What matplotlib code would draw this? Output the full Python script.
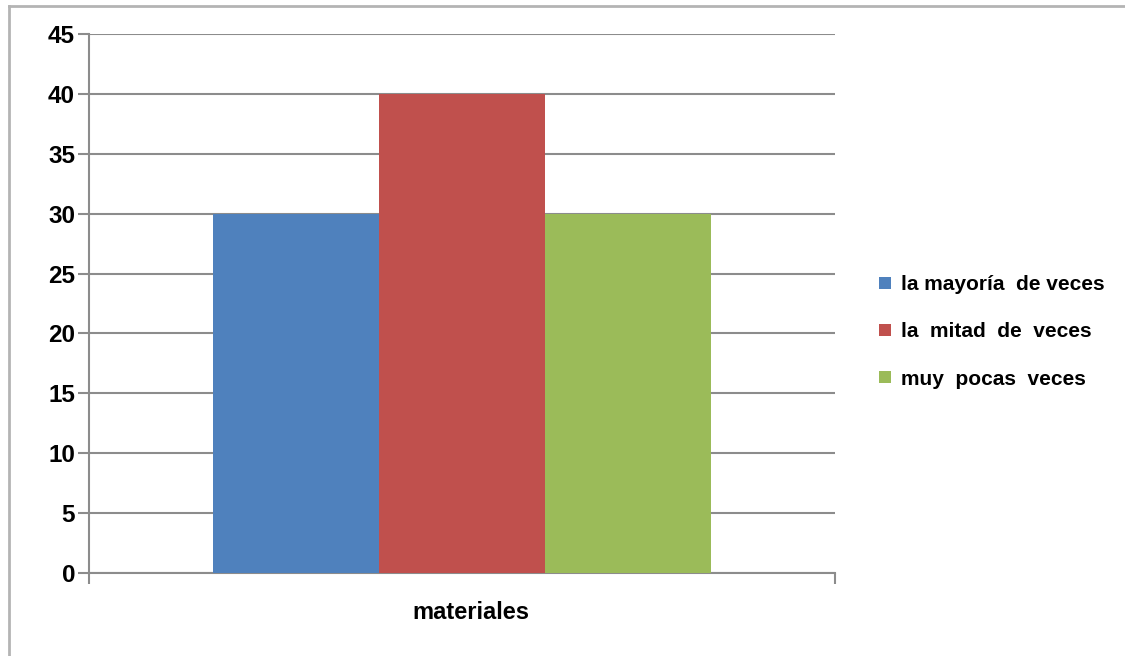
import matplotlib
matplotlib.use("Agg")
import matplotlib.pyplot as plt
from matplotlib.lines import Line2D

plt.rcParams['font.family'] = ['Liberation Sans', 'DejaVu Sans']

series = ['la mayoría  de veces', 'la  mitad  de  veces', 'muy  pocas  veces']
values = [30, 40, 30]
colors = ['#4f81bd', '#c0504d', '#9bbb59']
category = 'materiales'
yticks = [0, 5, 10, 15, 20, 25, 30, 35, 40, 45]

fig = plt.figure(figsize=(11.25, 6.56), dpi=100)
ax = fig.add_axes([0.0791, 0.1265, 0.6631, 0.8217])

w = 0.2225
offsets = [-w, 0, w]
for name, v, c, off in zip(series, values, colors, offsets):
    ax.bar(off, v, width=w, color=c, label=name, zorder=3)

ax.set_xlim(-0.5, 0.5)
ax.set_ylim(0, 45)
ax.set_yticks(yticks)
ax.set_yticklabels([str(t) for t in yticks], fontsize=17.5, fontweight='bold')
ax.yaxis.grid(True, color='#8c8c8c', linewidth=1.5, zorder=0)
ax.set_axisbelow(True)
ax.tick_params(axis='y', length=8, width=1.5, color='#8c8c8c', pad=2)
ax.set_xticks([-0.5, 0.5])
ax.set_xticklabels(['', ''])
ax.tick_params(axis='x', length=8, width=1.5, color='#8c8c8c')
for s in ['top', 'right']:
    ax.spines[s].set_visible(False)
for s in ['left', 'bottom']:
    ax.spines[s].set_color('#8c8c8c')
    ax.spines[s].set_linewidth(1.5)
ax.set_xlabel(category, fontsize=17, fontweight='bold')
ax.xaxis.set_label_coords(0.512, -0.052)

ax.legend(loc='center left', bbox_to_anchor=(0.765, 0.494), bbox_transform=fig.transFigure,
          frameon=False, prop={'size': 15, 'weight': 'bold'},
          handlelength=0.55, handleheight=0.55, handletextpad=0.5, labelspacing=1.35)

# outer border
fig.add_artist(Line2D([9 / 1125, 9 / 1125], [0, 1 - 6 / 656], transform=fig.transFigure,
                      color='#b4b4b4', linewidth=2))
fig.add_artist(Line2D([9 / 1125, 1], [1 - 6 / 656, 1 - 6 / 656], transform=fig.transFigure,
                      color='#b4b4b4', linewidth=2))

fig.savefig('out.png', dpi=100)
